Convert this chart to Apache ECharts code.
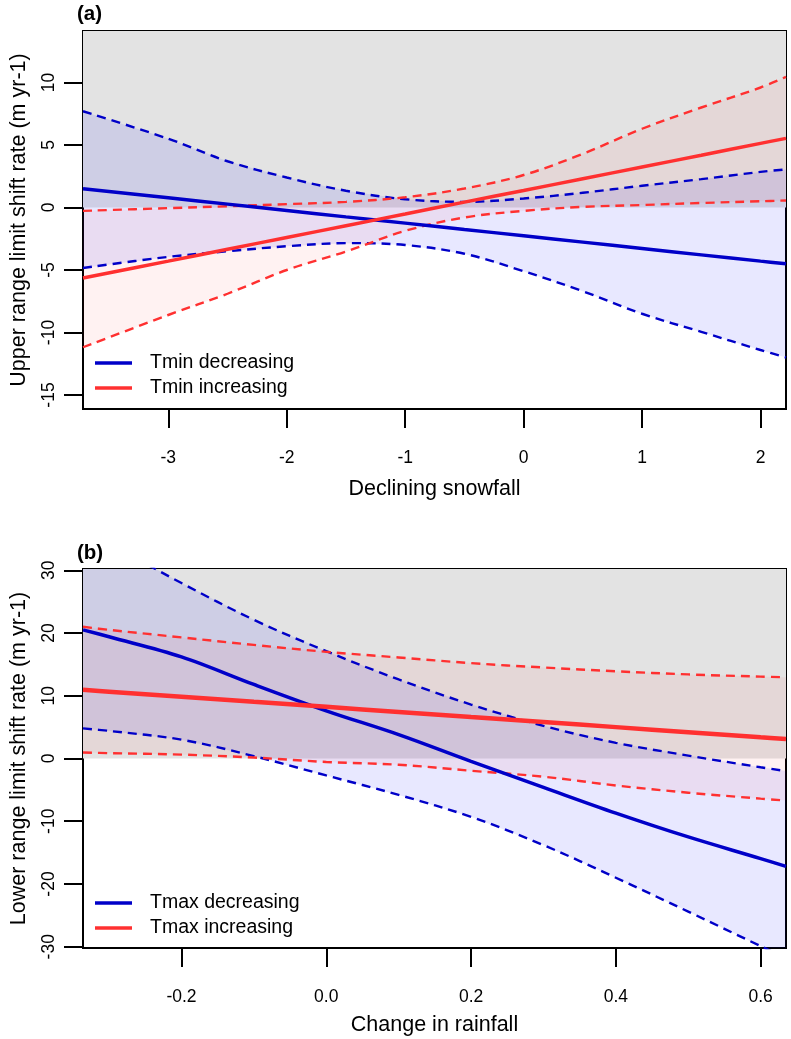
<!DOCTYPE html>
<html><head><meta charset="utf-8">
<script src="https://cdn.jsdelivr.net/npm/echarts@6/dist/echarts.min.js"></script>
<style>html,body{margin:0;padding:0;background:#fff}#c{width:791px;height:1039px}</style>
</head><body><div id="c"></div>
<script>
// ---------- Panel (a): Declining snowfall vs upper range limit shift ----------
const aX        = [-3.72, -3.0, -2.5, -2.0, -1.5, -1.0, -0.5, 0, 0.5, 1.0, 1.5, 2.0, 2.215];
const aDecFit   = [1.5, 0.78, 0.27, -0.24, -0.75, -1.25, -1.76, -2.26, -2.77, -3.28, -3.79, -4.29, -4.5];
const aDecHi    = [7.7, 5.5, 3.7, 2.4, 1.34, 0.66, 0.45, 0.72, 1.18, 1.74, 2.27, 2.85, 3.05];
const aDecLo    = [-4.84, -3.95, -3.5, -3.1, -2.85, -3.0, -3.7, -5.1, -6.7, -8.5, -9.95, -11.4, -12.0];
const aIncFit   = [-5.64, -4.29, -3.34, -2.40, -1.46, -0.52, 0.43, 1.36, 2.30, 3.24, 4.18, 5.13, 5.53];
const aIncHi    = [-0.27, -0.05, 0.1, 0.27, 0.45, 0.82, 1.52, 2.6, 4.3, 6.3, 8.0, 9.6, 10.45];
const aIncLo    = [-11.18, -8.6, -6.9, -5.0, -3.53, -1.87, -0.8, -0.27, 0.05, 0.2, 0.36, 0.5, 0.56];
const aXTicks   = [-3, -2, -1, 0, 1, 2];
const aYTicks   = [-15, -10, -5, 0, 5, 10];
const aXRange   = [-3.72, 2.215];
const aYRange   = [-16.12, 14.12];
const aNames    = ['Tmin decreasing', 'Tmin increasing'];

// ---------- Panel (b): Change in rainfall vs lower range limit shift ----------
const bX        = [-0.336, -0.3, -0.2, -0.1, 0, 0.1, 0.2, 0.3, 0.4, 0.5, 0.6, 0.635];
const bDecFit   = [20.5, 19.4, 16.2, 11.8, 7.6, 3.8, -0.46, -4.6, -8.7, -12.5, -15.95, -17.2];
const bDecHi    = [36.8, 34.3, 27.96, 22.1, 17.1, 12.6, 8.6, 5.2, 2.5, 0.46, -1.4, -2.0];
const bDecLo    = [4.8, 4.4, 3.0, 0.38, -2.7, -5.8, -9.3, -13.8, -19.0, -24.4, -29.9, -31.8];
const bIncFit   = [10.94, 10.65, 9.84, 9.03, 8.23, 7.42, 6.61, 5.81, 5.0, 4.19, 3.38, 3.1];
const bIncHi    = [21.0, 20.5, 19.3, 18.1, 17.0, 16.1, 15.2, 14.5, 13.9, 13.4, 13.05, 12.95];
const bIncLo    = [0.96, 0.85, 0.62, 0.15, -0.55, -1.0, -1.95, -2.9, -4.3, -5.45, -6.4, -6.7];
const bXTicks   = [-0.2, 0, 0.2, 0.4, 0.6];
const bYTicks   = [-30, -20, -10, 0, 10, 20, 30];
const bXRange   = [-0.336, 0.635];
const bYRange   = [-30.2, 30.2];
const bNames    = ['Tmax decreasing', 'Tmax increasing'];

const FONT = 'Liberation Sans, Arial, Helvetica, sans-serif';
const BLUE = '#0000c8';
const RED = '#ff3030';
const SMOOTH = 0.35;

function pairs(xs, ys) { return xs.map((x, i) => [x, ys[i]]); }

// confidence band polygon between lo and hi, positioned through the axes (api.coord)
function fillSeries(idx, xs, lo, hi, color) {
  return {
    type: 'custom', xAxisIndex: idx, yAxisIndex: idx, silent: true, z: 2, clip: true,
    data: [[xs[0], lo[0]]],
    renderItem: function (params, api) {
      const top = xs.map((x, i) => api.coord([x, hi[i]]));
      const bot = xs.map((x, i) => api.coord([x, lo[i]])).reverse();
      return { type: 'polygon', shape: { points: top.concat(bot) }, style: { fill: color } };
    }
  };
}
function dashSeries(idx, xs, ys, color) {
  return { type: 'line', xAxisIndex: idx, yAxisIndex: idx, data: pairs(xs, ys), symbol: 'none', silent: true, z: 3,
    smooth: SMOOTH, lineStyle: { color: color, width: 2.4, type: [9, 6] } };
}
function fitSeries(name, idx, xs, ys, color, w) {
  return { name: name, type: 'line', xAxisIndex: idx, yAxisIndex: idx, data: pairs(xs, ys), symbol: 'none', z: 4,
    smooth: SMOOTH, itemStyle: { color: color }, lineStyle: { color: color, width: w } };
}
function bandSeries(idx, ymax) {
  return { type: 'line', xAxisIndex: idx, yAxisIndex: idx, data: [], silent: true, z: 1,
    markArea: { silent: true, itemStyle: { color: '#e3e3e3' }, data: [[{ yAxis: 0 }, { yAxis: ymax }]] } };
}

function xAxis(idx, range, ticks, name, fmt, gap) {
  return { type: 'value', gridIndex: idx, min: range[0], max: range[1], name: name,
    nameLocation: 'middle', nameGap: gap, nameTextStyle: { fontFamily: FONT, fontSize: 21.5, color: '#000' },
    axisLine: { show: true, onZero: false, lineStyle: { color: '#000', width: 2 } },
    axisTick: { show: true, inside: false, length: 19, customValues: ticks, lineStyle: { color: '#000', width: 2 } },
    axisLabel: { customValues: ticks, margin: 40, fontFamily: FONT, fontSize: 17.5, color: '#000', formatter: fmt },
    splitLine: { show: false } };
}
function yAxis(idx, range, ticks, name) {
  return { type: 'value', gridIndex: idx, min: range[0], max: range[1], name: name,
    nameLocation: 'middle', nameGap: 53, nameRotate: 90, nameTextStyle: { fontFamily: FONT, fontSize: 21.5, color: '#000' },
    axisLine: { show: true, onZero: false, lineStyle: { color: '#000', width: 2 } },
    axisTick: { show: true, inside: false, length: 19, customValues: ticks, lineStyle: { color: '#000', width: 2 } },
    axisLabel: { customValues: ticks, rotate: 90, margin: 25, fontFamily: FONT, fontSize: 17.5, color: '#000' },
    splitLine: { show: false } };
}
function legend(names, top) {
  return { data: names, orient: 'vertical', left: 95, top: top, padding: 0, icon: 'rect', itemWidth: 37, itemHeight: 3.5, itemGap: 5,
    selectedMode: false, textStyle: { fontFamily: FONT, fontSize: 19.5, color: '#000', lineHeight: 19, padding: [0, 0, 0, 13] } };
}

const option = {
  animation: false,
  backgroundColor: '#fff',
  title: [
    { text: '(a)', left: 77, top: 4, padding: 0, textStyle: { fontFamily: FONT, fontSize: 20.5, fontWeight: 'bold', color: '#000' } },
    { text: '(b)', left: 77, top: 543, padding: 0, textStyle: { fontFamily: FONT, fontSize: 20.5, fontWeight: 'bold', color: '#000' } }
  ],
  grid: [
    { left: 77, top: 31, width: 709, height: 378, show: true, borderColor: '#000', borderWidth: 2, backgroundColor: 'transparent' },
    { left: 77, top: 569, width: 709, height: 379, show: true, borderColor: '#000', borderWidth: 2, backgroundColor: 'transparent' }
  ],
  xAxis: [
    xAxis(0, aXRange, aXTicks, 'Declining snowfall', v => String(v), 69),
    xAxis(1, bXRange, bXTicks, 'Change in rainfall', v => Number(v).toFixed(1), 66)
  ],
  yAxis: [
    yAxis(0, aYRange, aYTicks, 'Upper range limit shift rate (m yr-1)'),
    yAxis(1, bYRange, bYTicks, 'Lower range limit shift rate (m yr-1)')
  ],
  legend: [legend(aNames, 353), legend(bNames, 893)],
  series: [
    bandSeries(0, aYRange[1]),
    fillSeries(0, aX, aDecLo, aDecHi, 'rgba(0,0,255,0.09)'),
    fillSeries(0, aX, aIncLo, aIncHi, 'rgba(255,0,0,0.05)'),
    dashSeries(0, aX, aDecHi, BLUE), dashSeries(0, aX, aDecLo, BLUE),
    dashSeries(0, aX, aIncHi, RED), dashSeries(0, aX, aIncLo, RED),
    fitSeries(aNames[0], 0, aX, aDecFit, BLUE, 3.5),
    fitSeries(aNames[1], 0, aX, aIncFit, RED, 3.5),

    bandSeries(1, bYRange[1]),
    fillSeries(1, bX, bDecLo, bDecHi, 'rgba(0,0,255,0.09)'),
    fillSeries(1, bX, bIncLo, bIncHi, 'rgba(255,0,0,0.05)'),
    dashSeries(1, bX, bDecHi, BLUE), dashSeries(1, bX, bDecLo, BLUE),
    dashSeries(1, bX, bIncHi, RED), dashSeries(1, bX, bIncLo, RED),
    fitSeries(bNames[0], 1, bX, bDecFit, BLUE, 3.5),
    fitSeries(bNames[1], 1, bX, bIncFit, RED, 4.5)
  ]
};
const chart = echarts.init(document.getElementById('c'), null, { renderer: 'canvas' });
chart.setOption(option);
</script>
</body></html>
